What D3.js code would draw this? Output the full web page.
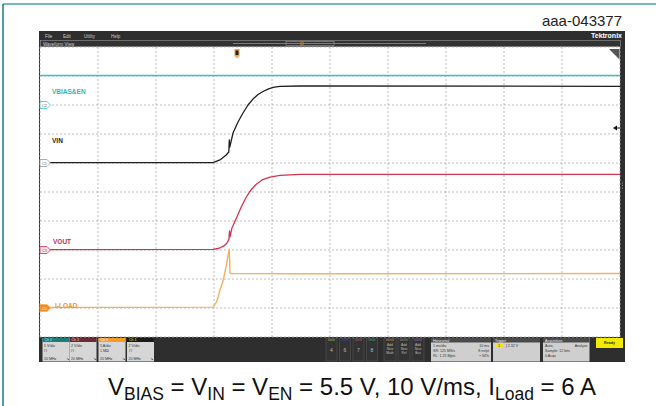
<!DOCTYPE html>
<html>
<head>
<meta charset="utf-8">
<script src="https://cdn.jsdelivr.net/npm/d3@7"></script>
<style>
body { margin: 0; background: #fff; }
svg { display: block; font-family: "Liberation Sans", Arial, sans-serif; }
</style>
</head>
<body>
<svg width="656" height="406"></svg>
<script>
// trace data, time in ms relative to the trigger
var vbiasTime = [-3.4, -1.5, 0.5, 2.5, 6.6];
var vbiasVolts = [5.1, 5.1, 5.1, 5.1, 5.1];

var vinTime = [-3.4, -0.417, -0.297, -0.19, -0.145, -0.136, -0.128, -0.072, 0.014, 0.1, 0.186, 0.272, 0.359, 0.445, 0.531, 0.617, 0.738, 1.083, 6.6];
var vinVolts = [0.02, 0.03, 0.21, 0.55, 0.76, 1.59, 1.10, 2.07, 2.83, 3.45, 4.0, 4.41, 4.72, 4.93, 5.10, 5.21, 5.28, 5.31, 5.29];

var voutTime = [-3.4, -0.417, -0.314, -0.228, -0.176, -0.141, -0.133, -0.124, -0.09, -0.021, 0.066, 0.152, 0.238, 0.324, 0.428, 0.566, 0.738, 1.083, 2.807, 6.6];
var voutVolts = [0.03, 0.05, 0.12, 0.28, 0.48, 0.76, 1.31, 0.90, 1.52, 2.14, 2.93, 3.62, 4.14, 4.52, 4.83, 5.03, 5.15, 5.21, 5.22, 5.22];

var iloadTime = [-3.4, -0.417, -0.353, -0.297, -0.24, -0.181, -0.141, -0.136, -0.124, -0.09, 1.083, 6.6];
var iloadAmps = [0.09, 0.15, 1.1, 3.1, 4.8, 7.7, 10.0, 10.1, 6.0, 5.95, 5.9, 5.95];

// channel settings
var chanNames = ["Ch 2", "Ch 3", "Ch 5", "Ch 1"];
var chanScale = ["5 V/div", "2 V/div", "5 A/div", "2 V/div"];
var chanLine2 = ["⊓", "⊓", "1 MΩ", "⊓"];
var chanBw = ["20 MHz", "20 MHz", "20 MHz", "20 MHz"];
var traceLabels = ["VBIAS&EN", "VIN", "VOUT", "I-LOAD"];
var markerLabels = ["C2", "C1", "C3", "C5"];
var menuItems = ["File", "Edit", "Utility", "Help"];
var slotLabels = ["4", "6", "7", "8"];
var addLabels = ["Math", "Ref", "Bus"];

var svg = d3.select("svg");

// outer figure frame
svg.append("line").attr("x1", 3).attr("x2", 656).attr("y1", 4).attr("y2", 4)
    .attr("stroke", "#4aa3a8").attr("stroke-width", 1.5);
svg.append("line").attr("x1", 3).attr("x2", 3).attr("y1", 4).attr("y2", 406)
    .attr("stroke", "#1f7a80").attr("stroke-width", 1.5);

svg.append("text").attr("x", 622).attr("y", 26).attr("text-anchor", "end")
    .attr("font-size", 15).attr("fill", "#222").text("aaa-043377");

// scope window chrome
svg.append("rect").attr("x", 39).attr("y", 31).attr("width", 586).attr("height", 331).attr("fill", "#2e2e2e");
svg.append("rect").attr("x", 40.5).attr("y", 40.5).attr("width", 580).attr("height", 6)
    .attr("fill", "#333").attr("stroke", "#8a8a8a").attr("stroke-width", 0.7);
var mx = [45, 63, 84, 111];
svg.selectAll(".menu").data(menuItems).enter().append("text")
    .attr("x", function(d, i) { return mx[i]; }).attr("y", 37.5)
    .attr("font-size", 4.5).attr("fill", "#ccc").text(function(d) { return d; });
svg.append("text").attr("x", 622).attr("y", 38).attr("text-anchor", "end")
    .attr("font-size", 7).attr("font-weight", "bold").attr("fill", "#fff").text("Tektronix");
svg.append("text").attr("x", 43).attr("y", 45.5).attr("font-size", 4.5).attr("fill", "#ccc").text("Waveform View");

// timeline overview
svg.append("line").attr("x1", 233).attr("x2", 426).attr("y1", 43.5).attr("y2", 43.5)
    .attr("stroke", "#999").attr("stroke-width", 0.7);
svg.append("rect").attr("x", 286).attr("y", 41.5).attr("width", 48).attr("height", 4)
    .attr("fill", "none").attr("stroke", "#999").attr("stroke-width", 0.6);
svg.append("circle").attr("cx", 302).attr("cy", 43.5).attr("r", 1.6)
    .attr("fill", "none").attr("stroke", "#d08a30").attr("stroke-width", 0.8);

// plot area
var x = d3.scaleLinear().domain([-3.4, 6.6]).range([40, 620]);
var div = d3.scaleLinear().domain([-5, 5]).range([337, 47]);

svg.append("rect").attr("x", 40).attr("y", 47).attr("width", 580).attr("height", 290).attr("fill", "#fff");

var g = svg.append("g");
g.selectAll(".vgrid").data(d3.range(11).map(function(i) { return -3.4 + i; }))
    .enter().append("line")
    .attr("x1", function(d) { return x(d); }).attr("x2", function(d) { return x(d); })
    .attr("y1", 47).attr("y2", 337)
    .attr("stroke", "#aaa").attr("stroke-width", 0.8).attr("stroke-dasharray", "2,2");
g.selectAll(".hgrid").data(d3.range(-5, 6))
    .enter().append("line")
    .attr("x1", 40).attr("x2", 620)
    .attr("y1", function(d) { return div(d); }).attr("y2", function(d) { return div(d); })
    .attr("stroke", "#aaa").attr("stroke-width", 0.8).attr("stroke-dasharray", "2,2");

var traces = [
    {t: vbiasTime, v: vbiasVolts, perDiv: 5, offset: 3, color: "#3ec0c3", text: "#3ab3b6", mfill: "#fff", width: 1.5},
    {t: vinTime, v: vinVolts, perDiv: 2, offset: 1, color: "#1e1e1e", text: "#222", mfill: "#fff", width: 1.3},
    {t: voutTime, v: voutVolts, perDiv: 2, offset: -2, color: "#d2334f", text: "#c0304a", mfill: "#fbe3e8", width: 1.3},
    {t: iloadTime, v: iloadAmps, perDiv: 5, offset: -4, color: "#f2b060", text: "#e8963a", mfill: "#f08a1e", width: 1.4}
];
var labelPos = [[52, 93.5], [52, 142.5], [53, 243.5], [55, 308]];

traces.forEach(function(tr, k) {
    var pts = tr.t.map(function(t, i) { return [t, tr.v[i]]; });
    var line = d3.line()
        .x(function(d) { return x(d[0]); })
        .y(function(d) { return div(tr.offset + d[1] / tr.perDiv); });
    g.append("path").datum(pts).attr("d", line)
        .attr("fill", "none").attr("stroke", tr.color).attr("stroke-width", tr.width)
        .attr("stroke-linejoin", "round");

    // ground marker
    var gy = div(tr.offset);
    g.append("path")
        .attr("d", "M40," + (gy - 3.5) + "L47," + (gy - 3.5) + "L50.5," + gy + "L47," + (gy + 3.5) + "L40," + (gy + 3.5) + "Z")
        .attr("fill", tr.mfill).attr("stroke", k == 1 ? "#999" : tr.color).attr("stroke-width", 0.8);
    g.append("text").attr("x", 44.5).attr("y", gy + 1.5).attr("text-anchor", "middle")
        .attr("font-size", 4).attr("fill", k == 3 ? "#fff" : "#666").text(markerLabels[k]);

    g.append("text").attr("x", labelPos[k][0]).attr("y", labelPos[k][1])
        .attr("font-size", 6.5).attr("font-weight", "bold").attr("fill", tr.text).text(traceLabels[k]);
});

// trigger position marker
g.append("rect").attr("x", 234.5).attr("y", 49).attr("width", 5).attr("height", 7.5).attr("fill", "#f0a040");
g.append("rect").attr("x", 235.5).attr("y", 50.5).attr("width", 3).attr("height", 4.5).attr("fill", "#222");
g.append("path").attr("d", "M235,56.5L239,56.5L237,58.5Z").attr("fill", "#f0a040");

// right edge decorations
svg.append("path").attr("d", "M609,49L619.5,49L619.5,59.5Z").attr("fill", "#555");
svg.append("path").attr("d", "M613,128L617,125.5L617,130.5Z").attr("fill", "#111");
svg.append("line").attr("x1", 616).attr("x2", 620).attr("y1", 128).attr("y2", 128).attr("stroke", "#111");
svg.selectAll(".dots").data([183, 185.5, 188]).enter().append("circle")
    .attr("cx", 622.5).attr("cy", function(d) { return d; }).attr("r", 0.5).attr("fill", "#aaa");

// bottom status panel
var bp = svg.append("g").attr("font-size", 3.6);
var chanHead = ["#1f7a78", "#6b2a35", "#f59b2a", "#1a1a1a"];
var chanHeadText = ["#9fe", "#fcc", "#fff", "#ee3"];
var chanX = [42.5, 69.5, 98.5, 127];
chanNames.forEach(function(name, i) {
    var cx = chanX[i];
    bp.append("rect").attr("x", cx).attr("y", 338).attr("width", 27).attr("height", 23.5).attr("fill", "#d6d6d6");
    bp.append("rect").attr("x", cx).attr("y", 338).attr("width", 27).attr("height", 4).attr("fill", chanHead[i]);
    bp.append("text").attr("x", cx + 2).attr("y", 341.3).attr("fill", chanHeadText[i]).text(name);
    bp.append("text").attr("x", cx + 1.5).attr("y", 347).attr("fill", "#333").text(chanScale[i]);
    bp.append("text").attr("x", cx + 1.5).attr("y", 352).attr("fill", "#333").text(chanLine2[i]);
    bp.append("text").attr("x", cx + 1.5).attr("y", 359.5).attr("fill", "#333").text(chanBw[i]);
    bp.append("text").attr("x", cx + 23).attr("y", 359.5).attr("fill", "#333").text("↘");
});

var slotX = [326, 339.5, 353, 366.5];
var slotColor = ["#7aa040", "#3a3ab0", "#a8407e", "#2a8a6a"];
slotLabels.forEach(function(s, i) {
    bp.append("rect").attr("x", slotX[i]).attr("y", 338.5).attr("width", 11).attr("height", 22.5)
        .attr("fill", "#333").attr("stroke", "#555").attr("stroke-width", 0.6);
    bp.append("line").attr("x1", slotX[i] + 2).attr("x2", slotX[i] + 9).attr("y1", 340).attr("y2", 340)
        .attr("stroke", slotColor[i]).attr("stroke-width", 1);
    bp.append("text").attr("x", slotX[i] + 5.5).attr("y", 352).attr("text-anchor", "middle")
        .attr("font-size", 5).attr("fill", "#bbb").text(s);
});

var addX = [384, 398, 412];
var addColor = ["#b07a30", "#777", "#8a4aa0"];
addLabels.forEach(function(s, i) {
    bp.append("rect").attr("x", addX[i]).attr("y", 338.5).attr("width", 12).attr("height", 22.5)
        .attr("fill", "#333").attr("stroke", "#555").attr("stroke-width", 0.6);
    bp.append("line").attr("x1", addX[i] + 2).attr("x2", addX[i] + 10).attr("y1", 340).attr("y2", 340)
        .attr("stroke", addColor[i]).attr("stroke-width", 1);
    ["Add", "New", s].forEach(function(w, j) {
        bp.append("text").attr("x", addX[i] + 6).attr("y", 346 + j * 4).attr("text-anchor", "middle")
            .attr("font-size", 3.3).attr("fill", "#bbb").text(w);
    });
});

function infoBox(x0, w, title, rows) {
    bp.append("rect").attr("x", x0).attr("y", 338).attr("width", w).attr("height", 23.5).attr("fill", "#cfcfcf");
    bp.append("rect").attr("x", x0).attr("y", 338).attr("width", w).attr("height", 4.5).attr("fill", "#4a4a4a");
    bp.append("text").attr("x", x0 + 2).attr("y", 341.6).attr("fill", "#eee").text(title);
    rows.forEach(function(r, j) {
        bp.append("text").attr("x", x0 + 2).attr("y", 347 + j * 5).attr("fill", "#333").text(r[0]);
        if (r[1]) bp.append("text").attr("x", x0 + w - 2).attr("y", 347 + j * 5)
            .attr("text-anchor", "end").attr("fill", "#333").text(r[1]);
    });
}
infoBox(431, 60, "Horizontal", [["1 ms/div", "10 ms"], ["SR: 125 MS/s", "8 ns/pt"], ["RL: 1.25 Mpts", "▪ 34%"]]);
infoBox(493, 47, "Trigger", [["", ""], ["", ""], ["", ""]]);
bp.append("rect").attr("x", 495).attr("y", 343.5).attr("width", 8).attr("height", 4).attr("rx", 1).attr("fill", "#eee42a");
bp.append("text").attr("x", 499).attr("y", 346.8).attr("text-anchor", "middle").attr("fill", "#222").text("1");
bp.append("text").attr("x", 506).attr("y", 346.8).attr("fill", "#333").text("ʃ  2.32 V");
infoBox(543, 46.5, "Acquisition", [["Auto,", "Analyze"], ["Sample: 12 bits", ""], ["0 Acqs", ""]]);
bp.append("rect").attr("x", 596).attr("y", 338).attr("width", 27).attr("height", 10).attr("fill", "#f2ea00");
bp.append("text").attr("x", 609.5).attr("y", 344.2).attr("text-anchor", "middle")
    .attr("font-weight", "bold").attr("fill", "#222").text("Ready");

// caption
var cap = svg.append("text").attr("x", 352).attr("y", 395).attr("text-anchor", "middle")
    .attr("font-size", 24).attr("fill", "#111");
var parts = [["V", 0], ["BIAS", 1], [" = V", 0], ["IN", 1], [" = V", 0], ["EN", 1],
    [" = 5.5 V, 10 V/ms, I", 0], ["Load", 1], [" = 6 A", 0]];
parts.forEach(function(p, i) {
    var ts = cap.append("tspan").text(p[0]);
    if (p[1]) ts.attr("font-size", 17.5).attr("dy", 5);
    else if (i > 0) ts.attr("dy", -5);
});
</script>
</body>
</html>
